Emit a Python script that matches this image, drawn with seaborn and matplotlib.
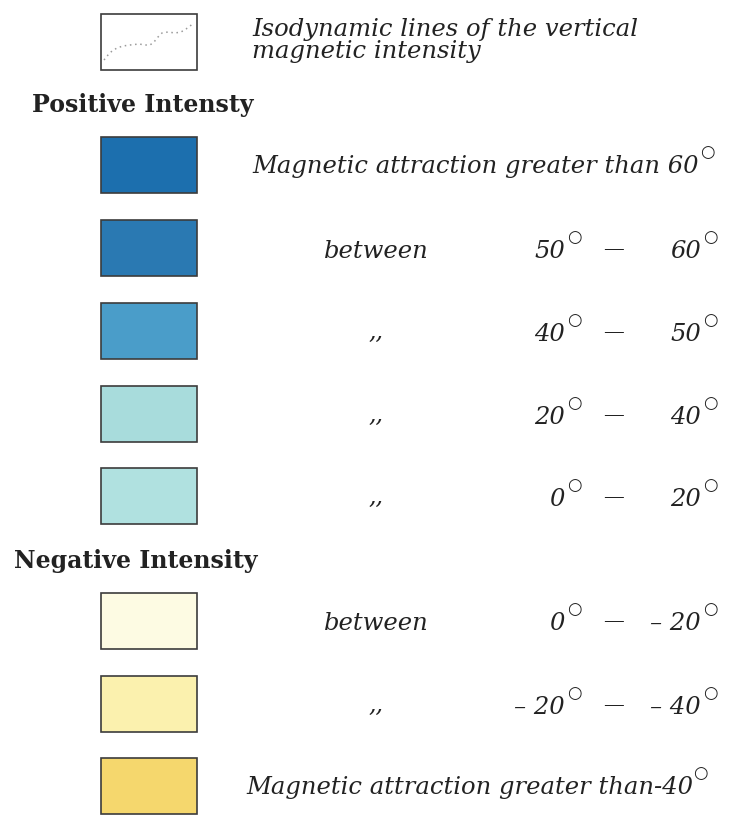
import numpy as np
import pandas as pd
import seaborn as sns
import matplotlib.pyplot as plt

# legend classes, top to bottom
classes = ["iso", "gt60", "50-60", "40-50", "20-40", "0-20", "0--20", "-20--40", "lt-40"]
swatch_colors = ["#ffffff", "#1c6fae", "#2a79b2", "#4a9dc9", "#a8dcdc",
                 "#b0e1e0", "#fdfbe3", "#fbf1ae", "#f5d76d"]

# the rows with a "between" range (positive then negative)
range_word = ["between", ",,", ",,", ",,", "between", ",,"]
range_left = ["50", "40", "20", "0", "0", "– 20"]
range_right = ["60", "50", "40", "20", "– 20", "– 40"]

iso_text = ["Isodynamic lines of the vertical", "magnetic intensity"]
top_text = "Magnetic attraction greater than 60"
bottom_text = "Magnetic attraction greater than-40"
headers = ["Positive Intensty", "Negative Intensity"]

# dotted isoline drawn inside the first swatch
curve_x = [104, 108, 112, 117, 123, 130, 139, 145, 150, 154, 158, 162, 168, 175, 181, 186, 190, 194]
curve_y = [60, 55, 51, 48, 46, 45, 44, 45, 45, 42, 37, 33, 32, 33, 32, 29, 26, 23]

# layout (pixels of the 731x815 picture)
row_y = [42, 165, 247.5, 331, 414, 496, 620.5, 704, 786]
SW_X, SW_W, SW_H = 101, 96, 56

sns.set_theme(style="white")
plt.rcParams["font.family"] = ["DejaVu Serif", "DejaVu Sans"]

fig = plt.figure(figsize=(7.31, 8.15), dpi=100)
ax = fig.add_axes([0, 0, 1, 1])

df = pd.DataFrame({"cls": classes, "width": SW_W, "y": row_y})
sns.barplot(data=df, x="width", y="y", hue="cls", orient="y", native_scale=True,
            palette=dict(zip(classes, swatch_colors)), saturation=1, dodge=False,
            errorbar=None, width=SW_H / np.min(np.diff(row_y)), edgecolor="#3c3c3c",
            linewidth=1.2, legend=False, left=SW_X, ax=ax)

sns.lineplot(x=curve_x, y=curve_y, sort=False, estimator=None, color="#9a9a9a",
             linestyle=(0, (1, 2.4)), linewidth=1.1, ax=ax)

ax.set_xlim(0, 731)
ax.set_ylim(815, 0)
ax.axis("off")

ink = "#222222"
it = dict(fontsize=17.5, style="italic", color=ink, va="baseline")
deg = dict(fontsize=12, family=["DejaVu Sans"], color=ink, ha="left", va="center")
renderer = fig.canvas.get_renderer()


def degree_after(txt, base, gap=2):
    # little open circle right after a number
    bb = txt.get_window_extent(renderer).transformed(ax.transData.inverted())
    ax.text(bb.x1 + gap, base - 21, "○", **deg)


def hdr(x, base, s):
    ax.text(x, base, s, fontsize=17, fontweight="bold", color=ink, va="baseline")


# first row: isodynamic lines
ax.text(252, 36, iso_text[0], ha="left", **it)
ax.text(252, 58, iso_text[1], ha="left", **it)

# section headers
hdr(32, 112, headers[0])
hdr(14, 568, headers[1])

# greater than 60
b = row_y[1] + 8
t = ax.text(252, b, top_text, ha="left", **it)
degree_after(t, b)

# range rows
range_rows = [2, 3, 4, 5, 6, 7]
for k, r in enumerate(range_rows):
    b = row_y[r] + 10
    if range_word[k] == "between":
        ax.text(376, b, range_word[k], ha="center", **it)
    else:
        ax.text(376, row_y[r] + 1, range_word[k], ha="center", fontsize=17,
                style="italic", color=ink, va="center")
    t = ax.text(565, b, range_left[k], ha="right", **it)
    degree_after(t, b)
    ax.text(613, b - 3, "—", ha="center", fontsize=15, color=ink, va="baseline")
    t = ax.text(701, b, range_right[k], ha="right", **it)
    degree_after(t, b)

# greater than -40
b = row_y[8] + 8
t = ax.text(246, b, bottom_text, ha="left", **it)
degree_after(t, b, gap=0)

fig.savefig("out.png", dpi=100, facecolor="white")
